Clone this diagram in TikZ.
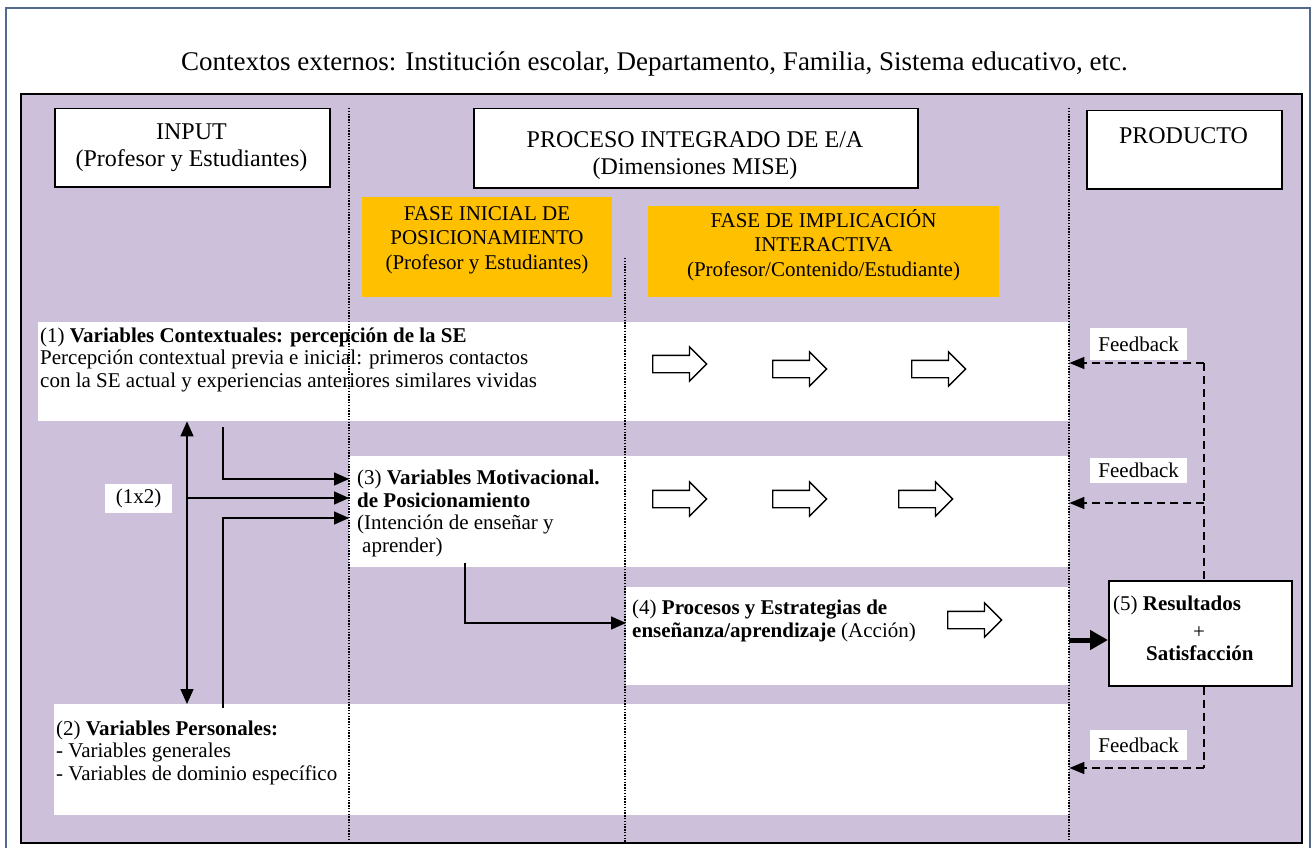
\documentclass[tikz,border=0pt]{standalone}
\usepackage{fontspec}
\setmainfont{Liberation Serif}
\usetikzlibrary{arrows.meta,shapes.arrows,calc}
\definecolor{lavender}{RGB}{204,192,218}
\definecolor{phase}{RGB}{255,192,0}
\definecolor{frameblue}{RGB}{84,106,140}
\tikzset{headtip/.tip={Triangle[length=15pt,width=13pt]}}
\begin{document}
\begin{tikzpicture}[x=1pt,y=-1pt,
  box/.style={draw=black, line width=1.5pt, fill=white, inner sep=0pt, anchor=north west},
  band/.style={fill=white, inner sep=0pt, anchor=north west},
  phasebox/.style={fill=phase, inner sep=0pt, anchor=north west},
  label/.style={fill=white, inner sep=0pt, anchor=north west, font=\fontsize{21}{22.5}\selectfont},
  % multi-line texts are placed by the baseline of their last line
  txt/.style={inner sep=0pt, anchor=base west, align=left, font=\fontsize{21}{22.5}\selectfont},
  head/.style={inner sep=0pt, anchor=base, align=center, font=\fontsize{24}{28}\selectfont},
  phasetxt/.style={inner sep=0pt, anchor=base, align=center, font=\fontsize{21}{24.5}\selectfont},
  divider/.style={line width=1.6pt, dash pattern=on 1.4pt off 1.4pt},
  link/.style={line width=1.5pt, -headtip},
  twoway/.style={line width=1.5pt, headtip-headtip},
  dashline/.style={line width=1.5pt, dash pattern=on 8pt off 5pt},
  feedback/.style={dashline, -{Triangle[length=15pt,width=12pt]}},
  flow/.style={single arrow, draw=black, line width=1.3pt, fill=white, anchor=tail,
    minimum height=54pt, minimum width=33pt, single arrow head extend=8.5pt,
    inner xsep=0pt, inner ysep=8pt}
]
% page and frames
\useasboundingbox (0,0) rectangle (1312,848);
\fill[white] (0,0) rectangle (1312,848);
\draw[frameblue, line width=1.5pt] (6,8) rectangle (1310,852);
\draw[black, line width=1.8pt, fill=lavender] (21,94) rectangle (1302,843);

\node[inner sep=0pt, anchor=base, font=\fontsize{27}{30}\selectfont] (ctx) at (654.5,71)
  {Contextos externos: Institución escolar, Departamento, Familia, Sistema educativo, etc.};

% column headers
\node[box, minimum width=275pt, minimum height=78pt] (inbox) at (54,108) {};
\node[head] (intxt) at (191.5,167) {INPUT\\(Profesor y Estudiantes)};
\node[box, minimum width=444pt, minimum height=79pt] (procbox) at (473,108) {};
\node[head] (proctxt) at (695,175) {PROCESO INTEGRADO DE E/A\\(Dimensiones MISE)};
\node[box, minimum width=195pt, minimum height=78pt] (prodbox) at (1086,110) {};
\node[head] (prodtxt) at (1183.5,143) {PRODUCTO};

% phases
\node[phasebox, minimum width=250pt, minimum height=100pt] (ph1) at (362,197) {};
\node[phasetxt] (ph1txt) at (487,269) {FASE INICIAL DE\\POSICIONAMIENTO\\(Profesor y Estudiantes)};
\node[phasebox, minimum width=351pt, minimum height=91pt] (ph2) at (648,206) {};
\node[phasetxt] (ph2txt) at (823.5,276) {FASE DE IMPLICACIÓN\\INTERACTIVA\\(Profesor/Contenido/Estudiante)};

% variable bands
\node[band, minimum width=1031pt, minimum height=99pt] (b1) at (38,322) {};
\node[band, minimum width=720pt, minimum height=111pt] (b2) at (349,456) {};
\node[band, minimum width=443pt, minimum height=98pt] (b3) at (626,587) {};
\node[band, minimum width=1015pt, minimum height=111pt] (b4) at (54,704) {};

\node[txt] (t1) at (40,387) {(1) \textbf{Variables Contextuales: percepción de la SE}\\
  Percepción contextual previa e inicial: primeros contactos\\
  con la SE actual y experiencias anteriores similares vividas};
\node[txt] (t3) at (357,552) {(3) \textbf{Variables Motivacional.}\\
  \textbf{de Posicionamiento}\\(Intención de enseñar y\\\hspace*{5pt}aprender)};
\node[txt] (t4) at (632,637) {(4) \textbf{Procesos y Estrategias de}\\
  \textbf{enseñanza/aprendizaje} (Acción)};
\node[txt] (t2) at (56,780) {(2) \textbf{Variables Personales:}\\
  - Variables generales\\- Variables de dominio específico};

% column dividers
\draw[divider] (349,108) -- (349,843);
\draw[divider] (625,258) -- (625,843);
\draw[divider] (1069,108) -- (1069,843);

% flow arrows
\node[flow] (r1a) at (652,364) {};
\node[flow] (r1b) at (772,369) {};
\node[flow] (r1c) at (911,369) {};
\node[flow] (r2a) at (652,499) {};
\node[flow] (r2b) at (772,499) {};
\node[flow] (r2c) at (898,499) {};
\node[flow] (r3a) at (947,620) {};

% results
\node[box, minimum width=183pt, minimum height=105pt] (res) at (1108,580) {};
\node[inner sep=0pt, anchor=base west, font=\fontsize{21}{22.5}\selectfont] (res1) at (1113,610) {(5) \textbf{Resultados}};
\node[inner sep=0pt, anchor=base, font=\fontsize{21}{22.5}\selectfont] (res2) at (1199,638) {+};
\node[inner sep=0pt, anchor=base west, font=\fontsize{21}{22.5}\selectfont] (res3) at (1146,660) {\textbf{Satisfacción}};

% left-side links
\coordinate (ax) at (187,0);
\coordinate (bx) at (223,0);
\coordinate (m1) at ($(b2.north west)+(0,23)$);
\coordinate (m2) at ($(b2.north west)+(0,42)$);
\coordinate (m3) at ($(b2.north west)+(0,62)$);
\node[label, minimum width=67pt, minimum height=29pt] (x12) at (105,484) {(1x2)};
\draw[twoway] (b1.south -| ax) -- (b4.north -| ax);
\draw[link] ($(b1.south -| bx)+(0,6)$) |- (m1);
\draw[link] (m2 -| ax) -- (m2);
\draw[link] ($(b4.north -| bx)+(0,4)$) |- (m3);
\draw[link] ($(b2.south west)+(116,-4)$) |- ($(b3.north west)+(0,36)$);
\coordinate (th) at ($(b3.north east)+(0,53)$);
\draw[line width=5pt, -{Triangle[length=18pt,width=19pt]}] (th) -- (th -| res.west);

% feedback loop
\node[label, minimum width=97pt, minimum height=32pt] (fbl1) at (1090,328) {Feedback};
\node[label, minimum width=97pt, minimum height=25pt] (fbl2) at (1090,458) {Feedback};
\node[label, minimum width=97pt, minimum height=30pt] (fbl3) at (1090,730) {Feedback};
\coordinate (fb1) at (1204,363);
\coordinate (fb2) at (1204,503);
\coordinate (fb3) at (1204,768);
\draw[dashline] (fb1) -- (res.north -| fb1);
\draw[dashline] (res.south -| fb1) -- (fb3);
\draw[feedback] (fb1) -- (fb1 -| b1.east);
\draw[feedback] (fb2) -- (fb2 -| b2.east);
\draw[feedback] (fb3) -- (fb3 -| b4.east);
\end{tikzpicture}
\end{document}
